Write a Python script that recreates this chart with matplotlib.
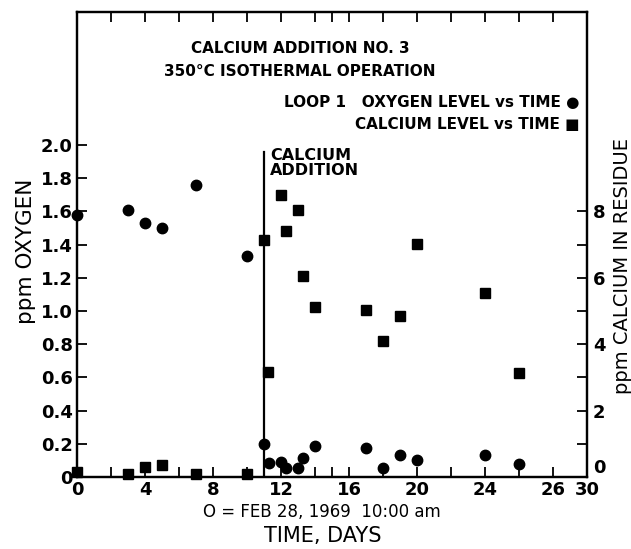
import matplotlib
matplotlib.use("Agg")
import matplotlib.pyplot as plt
from matplotlib.ticker import FixedLocator

plt.rcParams["font.family"] = ["DejaVu Sans"]
plt.rcParams["font.weight"] = "bold"

# oxygen level (left axis, ppm)
oxy_days = [0, 3, 4, 5, 7, 10, 11, 11.3, 12, 12.3, 13, 13.3, 14, 17, 18, 19, 20, 24, 26]
oxy_ppm = [1.58, 1.61, 1.53, 1.50, 1.76, 1.33, 0.20, 0.085, 0.09, 0.055, 0.055,
           0.115, 0.19, 0.175, 0.055, 0.135, 0.10, 0.135, 0.08]

# calcium level (right axis, ppm in residue)
ca_days = [0, 3, 4, 5, 7, 10, 11, 11.2, 12, 12.3, 13, 13.3, 14, 17, 18, 19, 20, 24, 26]
ca_ppm = [0.15, 0.1, 0.3, 0.35, 0.1, 0.1, 7.13, 3.16, 8.48, 7.4, 8.03, 6.06, 5.13,
          5.04, 4.09, 4.84, 7.01, 5.55, 3.13]

addition_day = 11
x_tick_pos = [0, 4, 8, 12, 16, 20, 24, 28, 30]
x_tick_labels = ["0", "4", "8", "12", "16", "20", "24", "26", "30"]
x_minor = [2, 6, 10, 14, 15, 18, 22, 26]
left_ticks = [0, 0.2, 0.4, 0.6, 0.8, 1.0, 1.2, 1.4, 1.6, 1.8, 2.0]
left_labels = ["0", "0.2", "0.4", "0.6", "0.8", "1.0", "1.2", "1.4", "1.6", "1.8", "2.0"]
right_ticks = [0, 2, 4, 6, 8]
right_minor = [1, 3, 5, 7]

fig = plt.figure(figsize=(6.31, 5.49), dpi=100)
ax = fig.add_axes([0.122, 0.131, 0.809, 0.847])
ax2 = ax.twinx()

ax.plot(oxy_days, oxy_ppm, "o", color="black", markersize=7.5, clip_on=False, zorder=5)
ax2.plot(ca_days, ca_ppm, "s", color="black", markersize=7, clip_on=False, zorder=5)

ax.plot([addition_day, addition_day], [0, 1.96], color="black", linewidth=1.6)
ax.text(addition_day + 0.35, 1.98, "CALCIUM\nADDITION", fontsize=11.5,
        va="top", ha="left", linespacing=1.0)

ax.set_xlim(0, 30)
ax.set_ylim(0, 2.8)
ax2.set_ylim(0, 14)

ax.set_xticks(x_tick_pos)
ax.set_xticklabels(x_tick_labels, fontsize=13)
ax.xaxis.set_minor_locator(FixedLocator(x_minor))
ax.set_yticks(left_ticks)
ax.set_yticklabels(left_labels, fontsize=13)
ax2.set_yticks(right_ticks)
ax2.set_yticklabels([str(t) for t in right_ticks], fontsize=13)
ax2.yaxis.set_minor_locator(FixedLocator(right_minor))
ax2.get_yticklabels()[0].set_va("bottom")

ax.tick_params(axis="x", which="both", direction="in", top=True, length=7, width=1.3, pad=3)
ax.tick_params(axis="y", which="both", direction="in", length=7, width=1.3, pad=3)
ax2.tick_params(axis="y", which="both", direction="in", length=7, width=1.3, pad=4)

for a in (ax, ax2):
    for sp in a.spines.values():
        sp.set_linewidth(1.6)

ax.set_ylabel("ppm OXYGEN", fontsize=15.5)
ax.yaxis.set_label_coords(-0.08, 0.485)
ax2.set_ylabel("ppm CALCIUM IN RESIDUE", fontsize=14, rotation=90)
ax2.yaxis.set_label_coords(1.05, 0.455)

fig.text(0.51, 0.068, "O = FEB 28, 1969  10:00 am", ha="center", va="center",
         fontsize=12, fontweight="normal")
fig.text(0.512, 0.024, "TIME, DAYS", ha="center", va="center", fontsize=15,
         fontweight="normal")

ax.text(0.437, 0.921, "CALCIUM ADDITION NO. 3", transform=ax.transAxes,
        ha="center", va="center", fontsize=11)
ax.text(0.437, 0.873, "350\u00b0C ISOTHERMAL OPERATION", transform=ax.transAxes,
        ha="center", va="center", fontsize=11)
ax.text(0.985, 0.806, "LOOP 1   OXYGEN LEVEL vs TIME \u25cf", transform=ax.transAxes,
        ha="right", va="center", fontsize=11)
ax.text(0.985, 0.759, "CALCIUM LEVEL vs TIME \u25a0", transform=ax.transAxes,
        ha="right", va="center", fontsize=11)

fig.savefig("out.png", dpi=100)
